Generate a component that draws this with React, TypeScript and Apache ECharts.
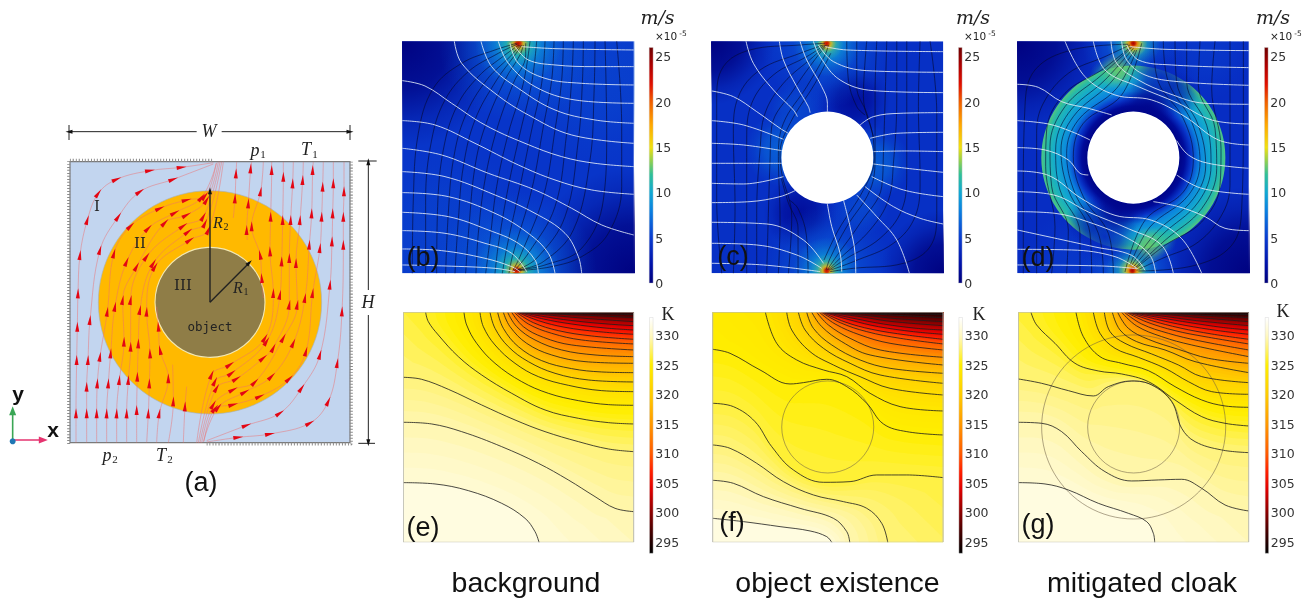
import React, { useEffect, useRef } from "react";
import * as echarts from "echarts";

type P = number[];

// ---------- colour scales (value, colour) ----------
const velocityStops: any[] = [[0,"#00007a"],[2,"#0010a8"],[5,"#0a3cd0"],[8,"#0a80e0"],[10,"#10a8d4"],[12,"#30c098"],[13.5,"#90d050"],[15,"#f0e010"],[17.5,"#ffa800"],[20,"#f06000"],[22,"#e01000"],[24,"#b00000"],[26,"#700000"]];
const kelvinStops: any[] = [[293,"#000000"],[297,"#4a0000"],[300,"#8a0000"],[304,"#e00000"],[307,"#ff2000"],[310,"#ff5a00"],[315,"#ff9800"],[320,"#ffcc00"],[325,"#ffee00"],[328,"#fff37a"],[330,"#fff8c0"],[333,"#ffffff"]];
const velocityTicks = [0, 5, 10, 15, 20, 25];
const kelvinTicks = [295, 300, 305, 310, 315, 320, 325, 330];

// ---------- temperature isotherms ----------
const levelsE = [331,329.5,328,326,324.5,323,321,319,317,315,313,311,309,307,305,303,301,298.5,296];
const isoE: P[][] = [
  [[25,548],[120,552],[220,572],[320,610],[390,655],[420,695],[432,727]],
  [[25,367],[110,372],[200,395],[320,440],[430,490],[520,540],[600,590],[660,625],[716,635]],
  [[25,232],[80,238],[160,268],[260,315],[360,360],[450,395],[550,425],[640,447],[716,455]],
  [[92,37],[100,65],[130,105],[190,170],[260,225],[350,280],[450,330],[550,355],[640,368],[716,372]],
  [[207,37],[215,75],[245,130],[300,190],[380,245],[460,280],[550,302],[640,314],[716,316]],
  [[255,37],[265,80],[300,135],[360,190],[430,230],[520,256],[620,272],[716,275]],
  [[285,37],[300,85],[340,140],[400,185],[480,220],[580,240],[716,246]],
  [[308,37],[325,85],[370,140],[440,182],[530,206],[620,216],[716,218]],
  [[325,37],[345,80],[395,130],[470,165],[570,185],[716,190]],
  [[338,37],[365,80],[420,120],[500,150],[600,165],[716,170]],
  [[350,37],[385,80],[445,112],[530,135],[716,150]],
  [[358,37],[400,72],[470,100],[560,120],[716,132]],
  [[364,37],[415,68],[490,92],[590,108],[716,118]],
  [[368,37],[430,62],[510,82],[610,95],[716,103]],
  [[372,37],[445,57],[530,72],[630,84],[716,90]],
  [[376,37],[460,52],[550,64],[650,73],[716,77]],
  [[380,37],[480,47],[570,55],[716,65]],
  [[385,37],[500,43],[600,47],[716,53]],
  [[395,37],[520,40],[716,43]],
];
const levelsF = [331,329.5,328,326.5,325,324,322.5,321,319,317,314.5,312,310,307.5,305,303,301,299,297,295];
const isoF: P[][] = [
  [[38,655],[130,665],[240,680],[330,693],[380,710],[395,727]],
  [[38,541],[100,550],[190,590],[300,625],[400,655],[440,695],[449,727]],
  [[38,435],[90,445],[170,490],[250,545],[340,585],[430,605],[500,625],[545,670],[563,727]],
  [[38,310],[100,320],[165,365],[215,440],[280,510],[370,547],[450,545],[530,525],[620,525],[729,533]],
  [[38,148],[90,160],[180,210],[270,252],[310,248],[380,238],[440,260],[500,310],[550,372],[620,395],[729,405]],
  [[196,37],[230,130],[290,180],[370,210],[440,230],[510,280],[600,320],[729,333]],
  [[260,37],[275,90],[330,155],[400,195],[480,230],[570,265],[729,285]],
  [[295,37],[315,90],[370,145],[450,190],[540,225],[729,250]],
  [[320,37],[340,85],[395,135],[480,180],[570,205],[729,220]],
  [[335,37],[365,80],[425,125],[510,165],[729,195]],
  [[350,37],[385,75],[450,115],[540,150],[729,172]],
  [[358,37],[405,72],[480,105],[570,130],[729,150]],
  [[364,37],[420,68],[500,95],[600,115],[729,132]],
  [[368,37],[435,66],[515,88],[620,105],[729,118]],
  [[372,37],[450,60],[535,80],[640,95],[729,103]],
  [[376,37],[465,56],[550,72],[650,85],[729,90]],
  [[380,37],[480,50],[570,64],[729,77]],
  [[384,37],[495,46],[590,56],[729,65]],
  [[388,37],[515,42],[610,47],[729,53]],
  [[398,37],[535,40],[729,43]],
];
const levelsG = [331,329.5,328,326,324.5,322.5,320.5,318.5,316.5,314.5,312.5,310.5,308.5,306.5,304.5,302,300,297.5,295];
const isoG: P[][] = [
  [[40,548],[120,552],[190,570],[280,610],[370,640],[425,665],[445,700],[449,727]],
  [[40,367],[110,370],[170,395],[230,455],[300,515],[380,543],[460,540],[530,538],[590,565],[660,615],[731,633]],
  [[40,237],[110,250],[190,272],[265,288],[310,260],[380,243],[440,255],[500,305],[530,385],[570,425],[650,450],[731,458]],
  [[78,37],[95,75],[150,130],[210,190],[280,213],[350,222],[430,245],[510,300],[590,350],[660,370],[731,378]],
  [[213,37],[235,110],[285,170],[350,190],[430,212],[510,260],[590,300],[660,318],[731,322]],
  [[265,37],[285,100],[330,145],[400,172],[480,205],[550,245],[620,275],[731,283]],
  [[298,37],[315,95],[360,130],[440,162],[520,195],[590,230],[731,248]],
  [[322,37],[345,90],[395,125],[480,150],[570,185],[731,218]],
  [[338,37],[370,85],[430,118],[520,148],[610,175],[731,190]],
  [[350,37],[395,78],[470,110],[560,135],[731,170]],
  [[358,37],[410,72],[490,100],[580,122],[731,150]],
  [[364,37],[425,66],[510,92],[600,110],[731,132]],
  [[368,37],[440,62],[525,84],[620,102],[731,118]],
  [[372,37],[455,58],[540,76],[640,92],[731,103]],
  [[376,37],[470,54],[555,68],[650,82],[731,90]],
  [[380,37],[485,50],[575,62],[731,77]],
  [[384,37],[500,45],[595,54],[731,65]],
  [[388,37],[520,42],[615,47],[731,53]],
  [[398,37],[540,40],[731,43]],
];

// ---------- velocity panels: isotherms (white) and streamlines (black) ----------
const whiteB: P[][] = [
  [[380,140],[480,146],[716,150]],
  [[360,140],[400,180],[480,195],[600,200],[716,200]],
  [[345,130],[370,190],[450,235],[560,250],[716,255]],
  [[310,124],[340,190],[420,260],[540,300],[716,310]],
  [[258,124],[290,200],[370,265],[480,330],[600,360],[716,370]],
  [[178,124],[200,190],[300,280],[400,345],[530,405],[716,430]],
  [[22,242],[90,258],[170,310],[270,375],[390,430],[500,470],[600,490],[716,500]],
  [[22,362],[120,375],[240,430],[370,495],[480,540],[590,570],[716,583]],
  [[22,445],[140,465],[280,520],[420,570],[530,625],[620,675],[716,705]],
  [[22,515],[150,530],[300,585],[420,640],[510,700],[550,770],[560,820]],
  [[22,578],[160,590],[300,640],[400,700],[460,760],[480,820]],
  [[22,637],[160,650],[280,690],[370,730],[420,780],[430,820]],
  [[22,692],[150,700],[270,730],[350,760],[395,815]],
  [[22,747],[140,752],[270,775],[350,800],[375,815]],
  [[22,795],[150,798],[300,805],[360,815]],
];
const blackB: P[][] = [
  [[52,820],[55,600],[70,400],[115,265],[200,190],[300,150],[365,130]],
  [[92,820],[92,600],[110,420],[150,300],[220,215],[310,160],[368,132]],
  [[125,820],[128,620],[145,450],[185,320],[250,230],[330,165],[372,135]],
  [[152,820],[160,640],[175,480],[210,350],[275,240],[345,170],[376,135]],
  [[180,820],[190,660],[205,500],[240,360],[305,240],[360,165],[380,135]],
  [[212,820],[222,680],[240,500],[270,380],[330,240],[375,165],[385,135]],
  [[243,820],[250,700],[270,540],[305,390],[355,250],[392,165],[392,130]],
  [[272,820],[285,720],[305,560],[340,400],[385,250],[405,124]],
  [[300,820],[310,735],[340,560],[375,400],[410,250],[425,124]],
  [[322,820],[335,745],[375,560],[410,390],[440,250],[450,124]],
  [[342,820],[352,770],[410,570],[445,380],[470,240],[477,124]],
  [[352,815],[375,770],[445,590],[480,390],[500,240],[505,124]],
  [[358,812],[400,760],[480,620],[515,400],[530,240],[535,124]],
  [[365,810],[425,775],[510,650],[550,420],[562,250],[565,124]],
  [[368,810],[445,785],[535,690],[585,480],[597,280],[600,124]],
  [[370,810],[450,795],[560,745],[625,600],[635,400],[630,124]],
  [[372,812],[470,800],[560,770],[640,700],[680,560],[680,380],[665,124]],
];
const whiteC: P[][] = [
  [[138,124],[160,190],[220,270],[280,330],[292,350]],
  [[238,124],[250,180],[290,260],[325,320],[330,338]],
  [[300,124],[320,180],[365,260],[382,310],[382,335]],
  [[340,124],[360,170],[420,240],[520,272],[729,278]],
  [[355,135],[400,185],[500,212],[729,217]],
  [[375,140],[440,150],[729,155]],
  [[35,273],[100,290],[170,335],[240,385],[265,400]],
  [[35,362],[130,375],[250,418]],
  [[35,430],[130,435],[245,452]],
  [[35,490],[130,490],[245,490]],
  [[35,550],[130,552],[250,530]],
  [[35,608],[150,605],[240,590],[285,572]],
  [[35,667],[200,672],[310,720],[370,790]],
  [[35,730],[170,735],[290,765],[365,805]],
  [[35,790],[190,795],[360,815]],
  [[480,375],[520,350],[600,340],[729,338]],
  [[510,415],[590,400],[729,397]],
  [[520,455],[620,453],[729,455]],
  [[520,492],[620,505],[729,517]],
  [[515,530],[610,570],[729,590]],
  [[495,560],[580,620],[660,655],[729,672]],
  [[470,585],[530,650],[590,720],[628,820]],
  [[430,600],[450,680],[465,760],[467,820]],
  [[382,612],[395,680],[420,760],[425,815]],
];
const blackC: P[][] = [
  [[65,820],[50,600],[50,300],[70,200],[150,150],[300,135],[375,130]],
  [[100,820],[105,620],[100,400],[115,290],[180,210],[300,160],[370,135]],
  [[140,820],[140,620],[140,420],[155,310],[220,225],[320,170],[375,135]],
  [[170,820],[170,640],[180,450],[195,340],[250,250],[340,170],[378,135]],
  [[200,820],[205,640],[210,480],[215,380],[280,270],[355,165],[382,135]],
  [[235,820],[240,660],[235,470],[250,370],[320,260],[375,165],[385,135]],
  [[265,820],[275,650],[245,520],[240,460],[270,370],[345,250],[392,160]],
  [[294,820],[294,686],[264,606],[244,536]],
  [[324,820],[319,706],[294,626],[269,601]],
  [[690,124],[710,340],[710,640],[690,740],[610,790],[460,805],[390,815]],
  [[660,124],[655,320],[660,540],[645,650],[580,730],[460,785],[392,810]],
  [[620,124],[620,320],[620,520],[605,630],[540,715],[440,775],[388,810]],
  [[590,124],[590,300],[580,490],[565,600],[510,690],[420,775],[385,810]],
  [[560,124],[555,300],[550,460],[545,560],[480,670],[405,775],[382,810]],
  [[530,124],[525,280],[525,470],[510,570],[440,680],[390,775],[378,810]],
  [[500,124],[490,290],[520,420],[522,480],[490,570],[415,690],[372,780]],
  [[470,124],[470,260],[500,340],[520,410]],
  [[440,124],[445,240],[470,320],[495,345]],
];
const whiteD: P[][] = [
  [[375,140],[480,148],[731,152]],
  [[365,135],[400,180],[500,195],[731,203]],
  [[350,124],[365,180],[420,225],[520,245],[731,256]],
  [[318,124],[335,190],[400,240],[490,280],[600,310],[731,313]],
  [[265,124],[300,210],[400,260],[520,310],[620,360],[731,372]],
  [[180,124],[240,230],[330,285],[440,300],[540,350],[640,420],[731,435]],
  [[37,253],[100,262],[170,305],[250,325],[320,345]],
  [[37,362],[130,372],[200,395],[255,420]],
  [[37,443],[120,450],[190,480],[225,520],[250,525]],
  [[515,422],[550,465],[610,490],[731,505]],
  [[515,525],[590,565],[731,583]],
  [[445,605],[520,620],[600,650],[660,685],[731,692]],
  [[37,513],[130,526],[230,596],[330,646],[440,661],[530,716],[590,820]],
  [[37,575],[150,586],[250,636],[370,686],[470,736],[505,820]],
  [[37,635],[150,640],[250,666],[370,716],[435,766],[452,820]],
  [[37,690],[270,741],[380,766],[420,811]],
  [[37,748],[200,750],[330,770],[400,808]],
  [[37,795],[290,798],[395,806]],
];
const blackD: P[][] = [
  [[55,820],[55,600],[60,320],[90,210],[200,150],[370,133]],
  [[95,820],[95,620],[95,400],[115,310],[190,220],[300,170],[375,135]],
  [[140,820],[150,680],[122,500],[125,390],[180,280],[290,210],[378,140]],
  [[185,820],[190,690],[140,560],[135,440],[180,320],[290,225],[382,140]],
  [[225,820],[225,700],[165,570],[152,450],[190,340],[300,240],[385,145]],
  [[260,820],[255,700],[190,570],[168,450],[205,350],[315,250],[390,150]],
  [[295,820],[280,700],[210,580],[185,460],[220,360],[335,265],[395,150]],
  [[325,820],[310,700],[235,590],[205,470],[235,370],[350,285],[410,130]],
  [[715,124],[715,346],[710,626],[680,736],[570,796],[400,813]],
  [[675,124],[675,326],[675,546],[655,636],[580,726],[470,776],[395,811]],
  [[630,124],[620,266],[648,446],[645,556],[590,666],[480,736],[392,806]],
  [[585,124],[580,256],[630,386],[635,506],[590,626],[480,721],[388,806]],
  [[545,124],[545,246],[605,376],[618,496],[580,606],[470,706],[385,801]],
  [[510,124],[515,246],[580,376],[602,496],[565,596],[455,696],[380,796]],
  [[475,124],[490,246],[560,366],[585,486],[550,586],[435,681],[375,796]],
  [[445,124],[460,246],[535,356],[565,476],[535,576],[420,661],[360,816]],
];

// Colour field shading: x, y, radius, field value, opacity
const fieldB: number[][] = [
  [150,720,280,6,.4],[600,220,280,6,.4],[22,124,320,.3,1],[716,820,320,.3,1],
  [370,124,240,7,.7],[370,130,130,9.5,.9],[370,130,70,12,.9],[370,130,36,17,1],[370,130,16,23,1],
  [365,815,240,7,.7],[365,812,130,9.5,.9],[365,812,70,12,.9],[365,812,36,17,1],[365,812,16,23,1],
];
const fieldC: number[][] = [
  [35,124,190,.3,1],[729,820,190,.3,1],
  [460,300,110,1.2,.9],[300,640,110,1.2,.9],[245,450,110,7.5,.7],[520,490,110,7.5,.7],[285,330,90,6.5,.5],[480,620,90,6.5,.5],
  [380,124,200,6.5,.7],[380,130,100,9.5,.9],[380,130,50,12.5,.9],[380,130,28,17,1],[380,130,13,23,1],
  [380,815,200,6.5,.7],[380,812,100,9.5,.9],[380,812,50,12.5,.9],[380,812,28,17,1],[380,812,13,23,1],
];
const fieldD: number[][] = [
  [37,124,260,.3,1],[731,820,260,.3,1],[200,790,150,5.5,.4],[600,150,150,5.5,.4],
  [380,124,150,7,.7],[385,130,80,11,.9],[385,130,42,15,.95],[385,130,24,20,1],[385,130,12,24,1],
  [382,815,150,7,.7],[382,812,80,11,.9],[382,812,42,15,.95],[382,812,24,20,1],[382,812,12,24,1],
];
const cloakRingD = [385, 473, 138, 276];
const cloakRadialD: number[][] = [[.5,.5],[.56,1.4],[.63,4.5],[.72,8.2],[.85,10.2],[.95,11.5],[1,12.5]];
const fieldDOver: number[][] = [
  [470,235,100,3.8,.95],[520,285,70,2,.6],[430,320,85,.8,.9],[300,710,100,3.8,.95],[250,660,70,2,.6],[340,625,85,.8,.9],
  [335,212,55,13,.85],[300,225,45,12,.5],[435,735,55,13,.85],[470,720,45,12,.5],
];
const discC = [382, 473, 138];
const discD = [385, 473, 138];
const circlesF = [[383, 381, 138]];
const circlesG = [[386, 381, 138], [386, 381, 276]];

// ---------- panel (a) ----------
const flowA: P[][] = [
  [[228,968],[228,880],[230,720],[232,620],[234,520],[240,405],[262,300],[295,220],[350,178],[450,152],[545,142],[640,128]],
  [[260,968],[260,880],[260,800],[264,720],[270,600],[300,390],[355,290],[420,215],[520,178],[640,132]],
  [[290,968],[290,880],[292,790],[300,710],[322,575],[342,400],[392,318],[480,265],[560,240],[615,228],[648,130]],
  [[320,968],[320,880],[325,790],[332,700],[345,560],[380,425],[445,325],[525,278],[605,232],[650,128]],
  [[350,968],[350,880],[358,780],[372,665],[368,540],[410,440],[495,308],[560,285],[620,240],[655,125]],
  [[380,968],[380,880],[385,780],[392,680],[392,540],[440,410],[550,318],[610,290],[660,125]],
  [[410,968],[410,870],[412,770],[415,670],[420,570],[460,430],[565,335],[615,310],[665,125]],
  [[440,968],[445,880],[448,790],[450,700],[440,575],[465,440],[570,360],[625,330],[670,125]],
  [[470,968],[478,880],[505,775],[480,690],[475,620],[470,560]],
  [[505,968],[520,844],[518,734]],
  [[550,968],[555,859],[560,800]],
  [[620,966],[715,952],[810,942],[930,909],[985,844],[1012,729],[1026,574],[1030,374],[1030,290],[1032,214],[1032,126]],
  [[620,962],[740,916],[840,879],[905,804],[960,704],[990,494],[996,364],[998,280],[1000,190],[1000,126]],
  [[612,964],[645,866],[700,854],[780,829],[868,776],[918,694],[938,519],[960,384],[965,290],[968,200],[970,126]],
  [[610,966],[655,862],[735,816],[815,769],[880,669],[915,534],[928,374],[935,280],[938,150],[940,126]],
  [[605,969],[640,854],[700,809],[765,786],[850,654],[892,554],[888,429],[900,300],[908,180],[910,126]],
  [[600,969],[650,804],[710,776],[790,714],[820,684],[868,554],[868,414],[872,300],[878,190],[880,126]],
  [[595,969],[645,784],[695,759],[800,664],[840,524],[845,424],[848,300],[850,170],[850,126]],
  [[590,969],[635,764],[690,734],[795,654],[820,519],[810,394],[812,290],[815,150],[815,126]],
  [[790,534],[785,474],[780,404],[755,319],[782,214],[790,126]],
  [[742,360],[740,330],[745,250],[752,145],[755,126]],
  [[700,294],[705,235],[708,160],[710,126]],
];
const outlineA = [210, 125, 840, 843];
const ringA = [630, 547, 165, 335];
const dimW: P[][] = [[[207,35],[590,35]],[[665,35],[1050,35]],[[207,15],[207,60]],[[1050,15],[1050,60]]];
const dimH: P[][] = [[[1105,125],[1105,510]],[[1105,585],[1105,968]],[[1075,123],[1130,123]],[[1075,970],[1125,970]]];
const radii: P[][] = [[[630,547],[630,212]],[[630,547],[748,428]]];
const arrowHeads = [[207,35,90],[1050,35,-90],[1105,125,0],[1105,968,180],[630,212,0],[748,428,-45]];
const wallsA: P[][] = [[[206,972],[206,121],[640,121]],[[620,972],[1054,972],[1054,125]]];

// ---------- helpers ----------
const hex = (c: string) => [1,3,5].map((i) => parseInt(c.slice(i, i + 2), 16));
const colorAt = (stops: any[], v: number, a = 1) => {
  let i = 0;
  while (i < stops.length - 2 && v > stops[i + 1][0]) i++;
  const [v0, c0] = stops[i];
  const [v1, c1] = stops[i + 1];
  const t = Math.max(0, Math.min(1, (v - v0) / (v1 - v0)));
  const a0 = hex(c0), a1 = hex(c1);
  const m = a0.map((x, k) => Math.round(x + (a1[k] - x) * t));
  return `rgba(${m[0]},${m[1]},${m[2]},${a})`;
};
const curve = (pts: P[]) => {
  const out: P[] = [];
  for (let i = 0; i < pts.length - 1; i++) {
    const p0 = pts[Math.max(0, i - 1)], p1 = pts[i], p2 = pts[i + 1], p3 = pts[Math.min(pts.length - 1, i + 2)];
    for (let k = 0; k < 8; k++) {
      const t = k / 8, t2 = t * t, t3 = t2 * t;
      out.push([0, 1].map((d) => 0.5 * (2 * p1[d] + (p2[d] - p0[d]) * t + (2 * p0[d] - 5 * p1[d] + 4 * p2[d] - p3[d]) * t2 + (3 * p1[d] - p0[d] - 3 * p2[d] + p3[d]) * t3)));
    }
  }
  out.push(pts[pts.length - 1]);
  return out;
};
const resample = (pts: P[], m: number) => {
  const c = curve(pts);
  const len = [0];
  for (let i = 1; i < c.length; i++) len.push(len[i - 1] + Math.hypot(c[i][0] - c[i - 1][0], c[i][1] - c[i - 1][1]));
  const out: P[] = [];
  let j = 0;
  for (let k = 0; k < m; k++) {
    const s = (len[len.length - 1] * k) / (m - 1);
    while (j < c.length - 2 && len[j + 1] < s) j++;
    const t = (s - len[j]) / Math.max(1e-6, len[j + 1] - len[j]);
    out.push([c[j][0] + (c[j + 1][0] - c[j][0]) * t, c[j][1] + (c[j + 1][1] - c[j][1]) * t]);
  }
  return out;
};
// filled shading between two isotherms (paint only; the isotherms themselves come from the arrays)
const shading = (lines: P[][], levels: number[], xr: number[], yr: number[]) => {
  const [x0, x1] = xr, [y0, y1] = yr, H = y1 - y0, M = 48, K = 4;
  const sS = (p: P) => (p[0] <= x0 + 1 ? -(p[1] - y0) : p[0] - x0);
  const eS = (p: P) => (p[0] >= x1 - 1 ? p[1] - y0 : H + (x1 - p[0]));
  const sP = (s: number) => (s < 0 ? [x0, y0 - s] : [x0 + s, y0]);
  const eP = (s: number) => (s <= H ? [x1, y0 + s] : [x1 - (s - H), y1]);
  const res = lines.map((l) => resample(l, M));
  const polys: any[] = [];
  res.forEach((a, i) => {
    const b = res[i + 1];
    for (let k = 0; k < (b ? K : 1); k++) {
      const t = k / K;
      const T = b ? levels[i] + (levels[i + 1] - levels[i]) * t : levels[i];
      const pts = b ? a.map((p, n) => [p[0] + (b[n][0] - p[0]) * t, p[1] + (b[n][1] - p[1]) * t]) : a.map((p) => p.slice());
      if (b) {
        pts[0] = sP(sS(a[0]) + (sS(b[0]) - sS(a[0])) * t);
        pts[M - 1] = eP(eS(a[M - 1]) + (eS(b[M - 1]) - eS(a[M - 1])) * t);
      }
      const last = pts[M - 1], first = pts[0];
      if (last[1] >= y1 - 1) pts.push([x1, y1]);
      pts.push([x1, y0]);
      if (first[0] <= x0 + 1) pts.push([x0, y0]);
      polys.push({ pts, color: colorAt(kelvinStops, T - (levels[i] - (levels[i + 1] ?? levels[i] - 2)) / K / 2) });
    }
  });
  return polys;
};

const series: any[] = [];
const grids: any[] = [];
const xAxes: any[] = [];
const yAxes: any[] = [];
const addPanel = (left: number, top: number, w: number, h: number, xr: number[], yr: number[]) => {
  const g = grids.length;
  grids.push({ left, top, width: w, height: h, show: false });
  xAxes.push({ gridIndex: g, type: "value", min: xr[0], max: xr[1], show: false });
  yAxes.push({ gridIndex: g, type: "value", min: yr[0], max: yr[1], inverse: true, show: false });
  return g;
};
const onAxes = (g: number) => ({ xAxisIndex: g, yAxisIndex: g, silent: true, animation: false });
const custom = (g: number, z: number, items: any[], draw: (it: any, api: any) => any) =>
  series.push({ ...onAxes(g), type: "custom", z, clip: true, progressive: 0, data: items.map((_, i) => [i, 0]),
    renderItem: (p: any, api: any) => draw(items[p.dataIndex], api) });
const lines = (g: number, list: P[][], color: string, width: number, z = 6, extra: any = {}) =>
  list.forEach((l) => series.push({ ...onAxes(g), type: "line", z, data: l, smooth: 0.38, showSymbol: false, lineStyle: { color, width, ...extra } }));
const polyFill = (g: number, z: number, polys: any[]) =>
  custom(g, z, polys, (q, api) => ({ type: "polygon", shape: { points: q.pts.map((p: P) => api.coord(p)) }, style: { fill: q.color } }));
const rectAll = (g: number, z: number, xr: number[], yr: number[], style: any) =>
  custom(g, z, [0], (_q, api) => {
    const a = api.coord([xr[0], yr[0]]), b = api.coord([xr[1], yr[1]]);
    return { type: "rect", shape: { x: a[0], y: a[1], width: b[0] - a[0], height: b[1] - a[1] }, style };
  });
const glows = (g: number, z: number, list: number[][]) =>
  custom(g, z, list, (q, api) => {
    const c = api.coord([q[0], q[1]]), r = api.size([q[2], 0])[0];
    return { type: "circle", shape: { cx: c[0], cy: c[1], r }, style: { fill: new echarts.graphic.RadialGradient(.5, .5, .5, [
      { offset: 0, color: colorAt(velocityStops, q[3], q[4]) },
      { offset: .45, color: colorAt(velocityStops, q[3], q[4] * .72) },
      { offset: .75, color: colorAt(velocityStops, q[3], q[4] * .25) },
      { offset: 1, color: colorAt(velocityStops, q[3], 0) }]) } };
  });
const circles = (g: number, z: number, list: number[][], style: any) =>
  custom(g, z, list, (q, api) => {
    const c = api.coord([q[0], q[1]]);
    return { type: "circle", shape: { cx: c[0], cy: c[1], r: api.size([q[2], 0])[0] }, style };
  });
const colorBar = (left: number, top: number, height: number, w: number, range: number[], ticks: number[], stops: any[]) => {
  const g = grids.length;
  grids.push({ left, top, width: w, height, show: false });
  xAxes.push({ gridIndex: g, type: "category", data: ["scale"], show: false });
  yAxes.push({ gridIndex: g, type: "value", position: "right", min: range[0], max: range[1], splitLine: { show: false }, axisLine: { show: false }, axisTick: { show: false },
    axisLabel: { customValues: ticks, margin: 2, color: "#333", fontSize: 12.5, fontFamily: "DejaVu Sans" } });
  const colorStops = stops.filter((s) => s[0] >= range[0] - 1 && s[0] <= range[1] + 1)
    .map((s) => ({ offset: Math.max(0, Math.min(1, (range[1] - s[0]) / (range[1] - range[0]))), color: s[1] })).reverse();
  series.push({ ...onAxes(g), type: "bar", barWidth: "100%", z: 3, data: [range[1]],
    itemStyle: { color: new echarts.graphic.LinearGradient(0, 0, 0, 1, colorStops), borderColor: "#cfcfcf", borderWidth: .4 } });
};

// ---------- panel (a) ----------
const aR = [0, 1170];
const a = addPanel(0, 120, 390, 390, aR, aR);
rectAll(a, 1, [outlineA[0], outlineA[0] + outlineA[2]], [outlineA[1], outlineA[1] + outlineA[3]], { fill: "#c2d5ef", stroke: "#7a7a7a", lineWidth: 1.2 });
circles(a, 2, [[ringA[0], ringA[1], ringA[3]]], { fill: "#ffb900", stroke: "#9fb0c8", lineWidth: .6 });
circles(a, 3, [[ringA[0], ringA[1], ringA[2]]], { fill: "#8f7d47", stroke: "#f2e8b4", lineWidth: 1.1 });
lines(a, flowA, "rgba(238,110,110,.6)", .8, 4);
const flowArrows: number[][] = [];
flowA.forEach((l) => l.forEach((p, i) => {
  if (i === 0 || i === l.length - 1) return;
  const dx = l[i + 1][0] - l[i - 1][0], dy = l[i + 1][1] - l[i - 1][1];
  flowArrows.push([p[0], p[1], -Math.atan2(dx, -dy) * 180 / Math.PI]);
}));
series.push({ ...onAxes(a), type: "scatter", z: 5, data: flowArrows, symbol: "triangle", symbolSize: [4, 10], symbolRotate: (v: number[]) => v[2], itemStyle: { color: "#e30613", opacity: 1 } });
lines(a, wallsA, "#8a8a8a", 3, 1, { type: [1, 2] });
[dimW, dimH, radii].forEach((d) => d.forEach((l) => series.push({ ...onAxes(a), type: "line", z: 6, data: l, showSymbol: false, lineStyle: { color: "#222", width: d === radii ? 1.4 : 1 } })));
series.push({ ...onAxes(a), type: "scatter", z: 7, data: arrowHeads, symbol: "triangle", symbolSize: [4, 7], symbolRotate: (v: number[]) => v[2], itemStyle: { color: "#111", opacity: 1 } });

// ---------- velocity panels ----------
const velocityPanel = (left: number, xr: number[], base: number, field: number[][], white: P[][], black: P[][], disc: number[] | null, ring: boolean) => {
  const yr = [124, 820];
  const g = addPanel(left, 41.3, 231.4, 232, xr, yr);
  rectAll(g, 1, xr, yr, { fill: colorAt(velocityStops, base) });
  glows(g, 2, field);
  if (ring) {
    custom(g, 3, [cloakRingD], (q, api) => {
      const c = api.coord([q[0], q[1]]), R = api.size([q[3], 0])[0], r0 = api.size([q[2], 0])[0];
      return { type: "ring", shape: { cx: c[0], cy: c[1], r: R, r0 }, style: { fill: new echarts.graphic.RadialGradient(c[0], c[1], R,
        cloakRadialD.map((s) => ({ offset: s[0], color: colorAt(velocityStops, s[1]) })), true) } };
    });
    glows(g, 4, fieldDOver);
  }
  if (disc) circles(g, 5, [disc], { fill: "#fff" });
  lines(g, black, "rgba(6,10,50,.82)", .75, 6);
  lines(g, white, "rgba(228,236,248,.85)", 1, 7);
  return g;
};
velocityPanel(402.3, [22, 716], 4.5, fieldB, whiteB, blackB, null, false);
velocityPanel(711.7, [35, 729], 4.2, fieldC, whiteC, blackC, discC, false);
velocityPanel(1017.3, [37, 731], 4, fieldD, whiteD, blackD, discD, true);

// ---------- temperature panels ----------
const heatPanel = (left: number, xr: number[], iso: P[][], levels: number[], rings: number[][]) => {
  const yr = [37, 727];
  const g = addPanel(left, 312.3, 230.4, 230, xr, yr);
  rectAll(g, 1, xr, yr, { fill: colorAt(kelvinStops, 331.5) });
  polyFill(g, 2, shading(iso, levels, xr, yr));
  circles(g, 3, rings, { fill: "none", stroke: "rgba(110,95,70,.55)", lineWidth: 1 });
  lines(g, iso, "rgba(30,30,30,.85)", .95, 6);
  rectAll(g, 7, xr, yr, { fill: "none", stroke: "#b9b9b0", lineWidth: 1 });
};
heatPanel(403.3, [25, 716], isoE, levelsE, []);
heatPanel(712.7, [38, 729], isoF, levelsF, circlesF);
heatPanel(1018.3, [40, 731], isoG, levelsG, circlesG);

// ---------- colour bars ----------
const vRange = [0, 26.05];
const kRange = [293.1, 333.1];
colorBar(649, 47.3, 236, 4.3, vRange, velocityTicks, velocityStops);
colorBar(958.3, 47.3, 236, 4, vRange, velocityTicks, velocityStops);
colorBar(1264.3, 47.3, 236, 4, vRange, velocityTicks, velocityStops);
colorBar(649.3, 317.3, 236, 4, kRange, kelvinTicks, kelvinStops);
colorBar(958.7, 317.3, 236, 4, kRange, kelvinTicks, kelvinStops);
colorBar(1265, 317.3, 236, 3.8, kRange, kelvinTicks, kelvinStops);

// ---------- text ----------
const txt = (x: number, y: number, text: string, font: string, fill = "#222", align = "center") => ({
  type: "text", x, y, z: 50, silent: true, style: { text, font, fill, align, verticalAlign: "middle" } });
const serifI = "italic 18px 'Liberation Serif'";
const sub = "11px 'Liberation Serif'";
const units = [[657.5, 670], [973, 979], [1273, 1285]];
const graphics: any[] = [
  txt(209, 131, "W", serifI), txt(368, 302, "H", serifI),
  txt(255, 150, "p", serifI), txt(263, 154, "1", sub),
  txt(306, 149, "T", serifI), txt(315, 154, "1", sub),
  txt(107, 455, "p", serifI), txt(115, 459, "2", sub),
  txt(161, 455, "T", serifI), txt(170, 459, "2", sub),
  txt(218, 222, "R", "italic 16px 'Liberation Serif'"), txt(226, 226, "2", "10px 'Liberation Serif'"),
  txt(238, 287, "R", "italic 16px 'Liberation Serif'"), txt(246, 291, "1", "10px 'Liberation Serif'"),
  txt(97, 206, "I", "15px 'DejaVu Serif'"), txt(140, 243, "II", "15px 'DejaVu Serif'"), txt(183, 285, "III", "15px 'DejaVu Serif'"),
  txt(210, 326, "object", "12.5px 'DejaVu Sans Mono'"),
  txt(201, 482, "(a)", "27px 'Liberation Sans'", "#111"),
  txt(18, 393, "y", "bold 21px 'Liberation Sans'", "#111"), txt(53, 429, "x", "bold 21px 'Liberation Sans'", "#111"),
  txt(423, 257, "(b)", "27px 'Liberation Sans'", "#111"), txt(733, 256, "(c)", "27px 'Liberation Sans'", "#111"), txt(1038, 257, "(d)", "27px 'Liberation Sans'", "#111"),
  txt(423, 527, "(e)", "27px 'Liberation Sans'", "#111"), txt(732, 522, "(f)", "27px 'Liberation Sans'", "#111"), txt(1038, 524, "(g)", "27px 'Liberation Sans'", "#111"),
  txt(526, 582, "background", "28.5px 'Liberation Sans'", "#111"), txt(837.5, 582, "object existence", "28.5px 'Liberation Sans'", "#111"), txt(1142, 582, "mitigated cloak", "28.5px 'Liberation Sans'", "#111"),
  txt(668, 314, "K", "18px 'Liberation Serif'"), txt(979, 314, "K", "18px 'Liberation Serif'"), txt(1283, 311, "K", "18px 'Liberation Serif'"),
];
units.forEach(([m, e]) => {
  graphics.push(txt(m, 17, "m/s", "italic 19px 'DejaVu Serif'"));
  graphics.push(txt(e - 4, 36, "×10", "10.5px 'DejaVu Sans'"));
  graphics.push(txt(e + 13, 33, "-5", "7.5px 'DejaVu Sans'"));
});
// triad in panel (a)
const triad = addPanel(0, 120, 390, 390, aR, aR);
series.push({ ...onAxes(triad), type: "line", z: 8, data: [[38, 962], [38, 880]], showSymbol: false, lineStyle: { color: "#3aa655", width: 1.6 } });
series.push({ ...onAxes(triad), type: "line", z: 8, data: [[38, 960], [125, 960]], showSymbol: false, lineStyle: { color: "#e5336f", width: 1.6 } });
series.push({ ...onAxes(triad), type: "scatter", z: 9, data: [[38, 872, 0, "#3aa655"], [130, 960, -90, "#e5336f"]], symbol: "triangle", symbolSize: [7, 9], symbolRotate: (v: any[]) => v[2], itemStyle: { color: (p: any) => p.value[3], opacity: 1 } });
series.push({ ...onAxes(triad), type: "scatter", z: 10, data: [[38, 964]], symbol: "circle", symbolSize: 6, itemStyle: { color: "#1f77b4", opacity: 1 } });

export default function App() {
  const ref = useRef<HTMLDivElement>(null);
  useEffect(() => {
    document.body.style.margin = "0";
    const chart = echarts.init(ref.current!, undefined, { renderer: "svg" });
    chart.setOption({ animation: false, backgroundColor: "#fff", grid: grids, xAxis: xAxes, yAxis: yAxes, series, graphic: { elements: graphics } });
    return () => chart.dispose();
  }, []);
  return <div ref={ref} style={{ position: "absolute", left: 0, top: 0, width: 1315, height: 598, filter: "blur(0.45px)" }} />;
}
